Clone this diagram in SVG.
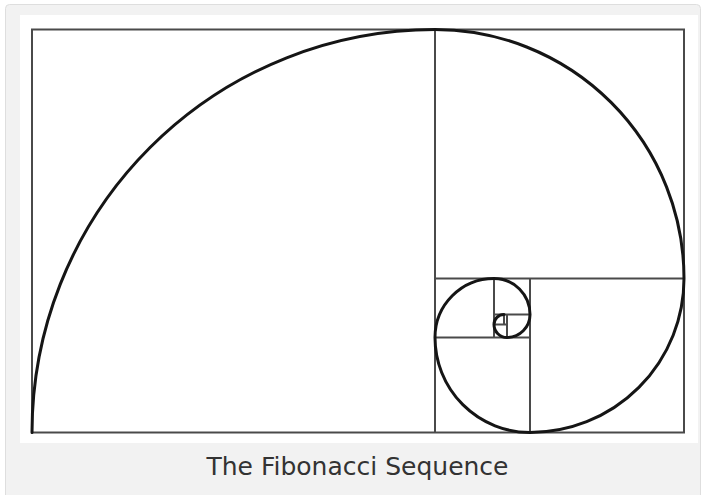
<svg xmlns="http://www.w3.org/2000/svg" width="703" height="495" viewBox="0 0 703 495">
  <style>
    .sq { fill: none; stroke: #4a4a4a; stroke-width: 2; }
    .spiral { fill: none; stroke: #151515; stroke-width: 3; stroke-linecap: round; }
    .caption { font-family: "DejaVu Sans", Verdana, sans-serif; font-size: 25px; fill: #333; }
  </style>
  <rect width="703" height="495" fill="#ffffff"/>
  <g id="frame">
    <rect x="5.5" y="4.5" width="695" height="500" rx="4" fill="#f2f2f2" stroke="#dedede" stroke-width="1"/>
    <rect x="20" y="15" width="678" height="428" fill="#ffffff"/>
  </g>
  <g id="squares">
    <rect class="sq" x="32" y="29.5" width="652" height="403"/>
    <path class="sq" d="M435 29.5V432.5 M435 278.5H684 M530 278.5V432.5 M435 337.5H530 M494 278.5V337.5 M494 314.5H530 M507 314.5V337.5 M494 324.5H507 M504 314.5V324.5"/>
  </g>
  <g id="spiral">
    <path class="spiral" d="M32 432.5 A403 403 0 0 1 435 29.5 A249 249 0 0 1 684 278.5 A154 154 0 0 1 530 432.5 A95 95 0 0 1 435 337.5 A59 59 0 0 1 494 278.5 A36 36 0 0 1 530 314.5 A23 23 0 0 1 507 337.5 A13 13 0 0 1 494 324.5 A10 10 0 0 1 504 314.5"/>
  </g>
  <g id="caption">
    <text class="caption" x="357.5" y="475" text-anchor="middle">The Fibonacci Sequence</text>
  </g>
</svg>
